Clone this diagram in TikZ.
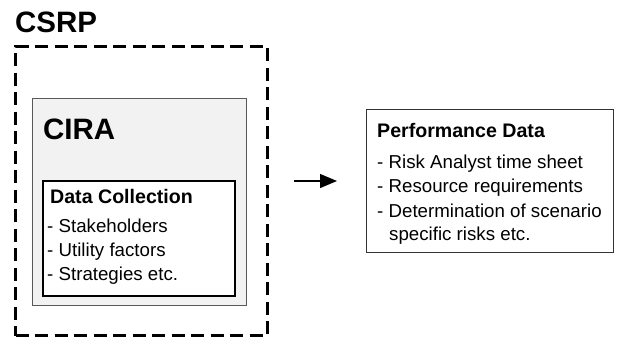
\documentclass[tikz,border=0pt]{standalone}
\usepackage{fontspec}
\setmainfont{Liberation Sans}
\usetikzlibrary{arrows.meta}
\begin{document}
\begin{tikzpicture}[x=1pt,y=-1pt,
  frame/.style={rectangle,anchor=north west,inner sep=0pt},
  txt/.style={anchor=base west,inner sep=0pt,font=\fontsize{18.7}{22}\selectfont},
  head/.style={txt,font=\fontsize{19.6}{22}\selectfont\bfseries},
  big/.style={anchor=base west,inner sep=0pt,font=\fontsize{29.5}{34}\selectfont\bfseries}]
\useasboundingbox (0,0) rectangle (624,338);
% outer dashed CSRP frame
\node[frame,draw=black,line width=3pt,dash pattern=on 13pt off 6.5pt,
  minimum width=252pt,minimum height=289pt] (csrp) at (14,45) {};
\node[big] (csrpt) at (15,32) {CSRP};
% CIRA box
\node[frame,draw=black!65,fill=black!5,line width=1.4pt,
  minimum width=214pt,minimum height=207pt] (cira) at (32,98) {};
\node[big] (cirat) at (43,139) {CIRA};
% Data Collection box
\node[frame,draw=black,fill=white,line width=1.8pt,
  minimum width=192pt,minimum height=115pt] (dc) at (42,180) {};
\node[head] (dct) at (50,203) {Data Collection};
\node[txt] (dc1) at (47,232) {- Stakeholders};
\node[txt] (dc2) at (47,256) {- Utility factors};
\node[txt] (dc3) at (47,280) {- Strategies etc.};
% Performance Data box
\node[frame,draw=black!80,fill=white,line width=1.4pt,
  minimum width=247pt,minimum height=143pt] (pd) at (366,109) {};
\node[head] (pdt) at (377,137) {Performance Data};
\node[txt] (pd1) at (377,168) {- Risk Analyst time sheet};
\node[txt] (pd2) at (377,192) {- Resource requirements};
\node[txt] (pd3) at (377,217) {- Determination of scenario};
\node[txt] (pd4) at (389,240) {specific risks etc.};
% arrow
\coordinate (a0) at (294,181);
\coordinate (a1) at (337,181);
\draw[line width=1.3pt,-{Triangle[length=17pt,width=14pt]}] (a0) -- (a1);
\end{tikzpicture}
\end{document}
